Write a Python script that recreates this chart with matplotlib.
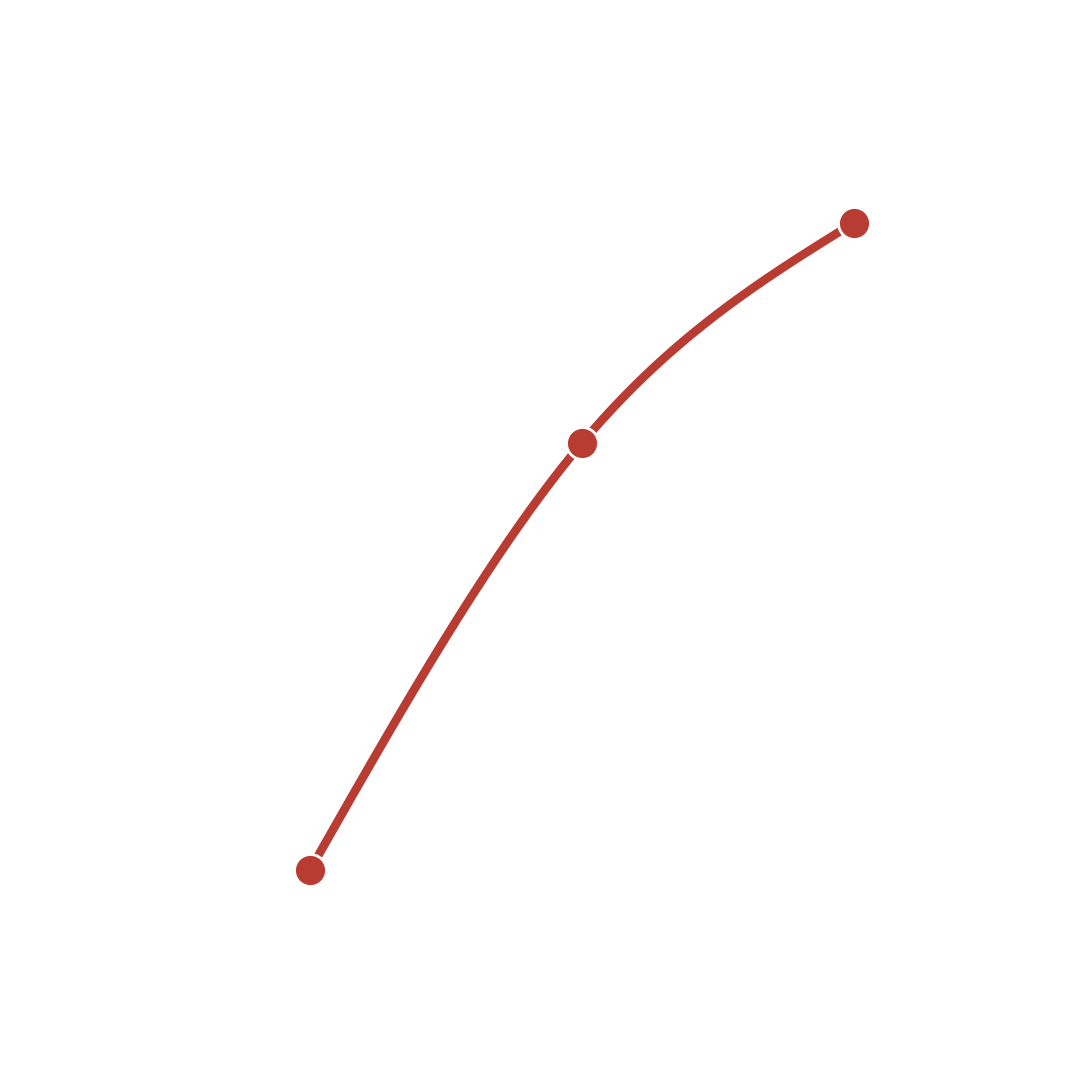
import numpy as np
import matplotlib
matplotlib.use("Agg")
import matplotlib.pyplot as plt

# data
x_vals = [0, 1, 2]
y_vals = [1.0, 2.57, 3.38]
line_color = "#b83c32"


def natural_spline(x, y, n=80):
    # natural cubic spline through the points (second derivative 0 at ends)
    x = np.asarray(x, float); y = np.asarray(y, float)
    k = len(x); h = np.diff(x)
    A = np.zeros((k, k)); b = np.zeros(k)
    A[0, 0] = A[-1, -1] = 1
    for i in range(1, k - 1):
        A[i, i - 1] = h[i - 1]; A[i, i] = 2 * (h[i - 1] + h[i]); A[i, i + 1] = h[i]
        b[i] = 6 * ((y[i + 1] - y[i]) / h[i] - (y[i] - y[i - 1]) / h[i - 1])
    M = np.linalg.solve(A, b)
    xs, ys = [], []
    for i in range(k - 1):
        t = np.linspace(x[i], x[i + 1], n)
        a = x[i + 1] - t; c = t - x[i]
        s = (M[i] * a**3 + M[i + 1] * c**3) / (6 * h[i]) \
            + (y[i] / h[i] - M[i] * h[i] / 6) * a + (y[i + 1] / h[i] - M[i + 1] * h[i] / 6) * c
        xs.append(t); ys.append(s)
    return np.concatenate(xs), np.concatenate(ys)


fig = plt.figure(figsize=(10.8, 10.8), dpi=100)
ax = fig.add_axes([0, 0, 1, 1])
cx, cy = natural_spline(x_vals, y_vals)
ax.plot(cx, cy, color=line_color, linewidth=6.2, solid_capstyle="butt", zorder=2)
ax.plot(x_vals, y_vals, linestyle="none", marker="o", markersize=23,
        markerfacecolor=line_color, markeredgecolor="white", markeredgewidth=2, zorder=3)
ax.set_xlim(-310 / 272, 770 / 272)
ax.set_ylim(1 - 210 / 272, 1 + 870 / 272)
ax.axis("off")
fig.savefig("out.png", dpi=100, facecolor="white")
